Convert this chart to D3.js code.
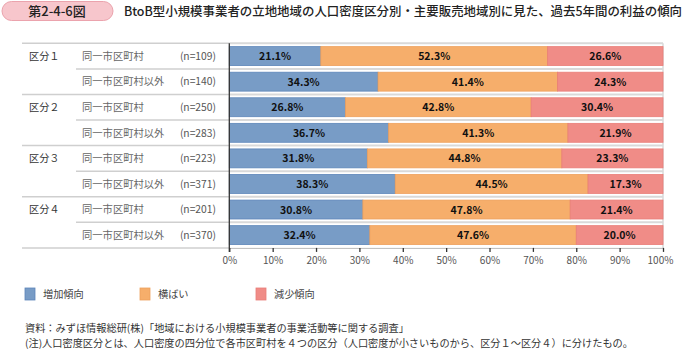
<!DOCTYPE html>
<html><head><meta charset="utf-8">
<script src="https://cdn.jsdelivr.net/npm/d3@7"></script>
<style>
html,body{margin:0;padding:0;background:#fff;}
svg text{font-family:"Noto Sans CJK JP","Noto Sans",sans-serif;}
</style></head>
<body><svg id="c" width="683" height="350"></svg>
<script>
const groupLabels = ["区分１","区分２","区分３","区分４"];
const subLabels = ["同一市区町村","同一市区町村以外"];
const nLabels = ["(n=109)","(n=140)","(n=250)","(n=283)","(n=223)","(n=371)","(n=201)","(n=370)"];
const seriesNames = ["増加傾向","横ばい","減少傾向"];
const increase = [21.1,34.3,26.8,36.7,31.8,38.3,30.8,32.4];
const flat = [52.3,41.4,42.8,41.3,44.8,44.5,47.8,47.6];
const decrease = [26.6,24.3,30.4,21.9,23.3,17.3,21.4,20.0];
const tickValues = [0,0.1,0.2,0.3,0.4,0.5,0.6,0.7,0.8,0.9,1.0];
const tickLabels = ["0%","10%","20%","30%","40%","50%","60%","70%","80%","90%","100%"];
const titleNo = "第2-4-6図";
const titleText = "BtoB型小規模事業者の立地地域の人口密度区分別・主要販売地域別に見た、過去5年間の利益の傾向";
const notes = ["資料：みずほ情報総研(株)「地域における小規模事業者の事業活動等に関する調査」",
"(注)人口密度区分とは、人口密度の四分位で各市区町村を４つの区分（人口密度が小さいものから、区分１～区分４）に分けたもの。"];

const colors = ["#789cc6","#f6ae6b","#f08c87"];
const strokes = ["#5d86b9","#eea05c","#e97d78"];

const svg = d3.select("#c");

// title
svg.append("rect").attr("x",2).attr("y",1.5).attr("width",111).attr("height",19).attr("rx",9.5)
  .attr("fill","#f7c6cc").attr("stroke","#eba3ad").attr("stroke-width",1);
svg.append("text").attr("x",57).attr("y",15.5).attr("text-anchor","middle")
  .attr("font-size",13).attr("font-weight",500).attr("fill","#222").text(titleNo);
svg.append("text").attr("x",124).attr("y",15.5)
  .attr("font-size",12.4).attr("font-weight",500).attr("fill","#222")
  .attr("textLength",558).attr("lengthAdjust","spacingAndGlyphs").text(titleText);

const rows = increase.map((v,i)=>({idx:i, inc:v, flat:flat[i], dec:decrease[i]}));
const x = d3.scaleLinear().domain([0,1]).range([229.3,663]);
const y = d3.scaleBand().domain(d3.range(rows.length)).range([43.3,247.9]).paddingInner(0.26).paddingOuter(0.13);
const step = y.step();
const top0 = 43.3;

// row boundary grid lines in plot
const bounds = d3.range(rows.length+1).map(i=>top0+i*step);
svg.append("g").selectAll("line").data(bounds.slice(0,-1)).join("line")
  .attr("x1",x(0)).attr("x2",x(1)).attr("y1",d=>d).attr("y2",d=>d)
  .attr("stroke","#d9d9d9").attr("stroke-width",2);
svg.append("line").attr("x1",x(1)).attr("x2",x(1)).attr("y1",top0).attr("y2",bounds[bounds.length-1])
  .attr("stroke","#d9d9d9").attr("stroke-width",1.5);

// left table lines
svg.append("g").selectAll("line").data(bounds).join("line")
  .attr("x1",(d,i)=> i%2===0 ? 22 : 76).attr("x2",x(0))
  .attr("y1",d=>d).attr("y2",d=>d)
  .attr("stroke","#cfcfcf").attr("stroke-width",1.5);

// stacked bars
const stack = d3.stack().keys(["inc","flat","dec"]).offset(d3.stackOffsetExpand);
const stacked = stack(rows);
const layer = svg.append("g").selectAll("g").data(stacked).join("g")
  .attr("fill",(d,i)=>colors[i]).attr("stroke",(d,i)=>strokes[i]).attr("stroke-width",0.8);
layer.selectAll("rect").data(d=>d).join("rect")
  .attr("x",d=>x(d[0])).attr("width",d=>x(d[1])-x(d[0]))
  .attr("y",d=>y(d.data.idx)).attr("height",y.bandwidth());

// value labels
const valKeys = ["inc","flat","dec"];
stacked.forEach((s,k)=>{
  svg.append("g").selectAll("text").data(s).join("text")
    .attr("x",d=>(x(d[0])+x(d[1]))/2).attr("y",d=>y(d.data.idx)+y.bandwidth()/2+4)
    .attr("text-anchor","middle").attr("font-size",10.5).attr("font-weight",700).attr("fill","#111")
    .text(d=>d.data[valKeys[k]].toFixed(1)+"%");
});

// row labels
const lab = svg.append("g");
rows.forEach((r,i)=>{
  const cy = y(i)+y.bandwidth()/2+3.8;
  if(i%2===0) lab.append("text").attr("x",29).attr("y",cy).attr("font-size",10.2).attr("fill","#333").text(groupLabels[i/2]);
  lab.append("text").attr("x",82).attr("y",cy).attr("font-size",10.3).attr("fill","#666").text(subLabels[i%2]);
  lab.append("text").attr("x",216).attr("y",cy).attr("text-anchor","end").attr("font-size",10.3).attr("fill","#555").text(nLabels[i]);
});

// axes
const xAxis = d3.axisBottom(x).tickValues(tickValues).tickFormat((d,i)=>tickLabels[i]).tickSize(4).tickSizeOuter(0);
const gx = svg.append("g").attr("transform",`translate(0,${bounds[bounds.length-1]})`).call(xAxis);
gx.select(".domain").attr("stroke","#bbb");
gx.selectAll(".tick line").attr("stroke","#333").attr("stroke-width",1.3);
gx.selectAll(".tick text").attr("font-size",10).attr("fill","#555").attr("dy","0.9em")
  .attr("font-family","'Noto Sans CJK JP',sans-serif");
gx.selectAll(".tick").filter(d=>d===1).select("text").attr("dx",-3);
svg.append("line").attr("x1",x(0)).attr("x2",x(0)).attr("y1",top0).attr("y2",bounds[bounds.length-1]+4)
  .attr("stroke","#333").attr("stroke-width",1.3);

// legend
const legX = [25,140,256];
seriesNames.forEach((n,i)=>{
  svg.append("rect").attr("x",legX[i]).attr("y",288).attr("width",10).attr("height",12)
    .attr("fill",colors[i]).attr("stroke",strokes[i]).attr("stroke-width",0.8);
  svg.append("text").attr("x",legX[i]+18).attr("y",297.5).attr("font-size",10.2).attr("fill","#444").text(n);
});

// notes
notes.forEach((t,i)=>{
  svg.append("text").attr("x",25).attr("y",332+i*14.5).attr("font-size",10.2).attr("fill","#333").text(t);
});
</script></body></html>
